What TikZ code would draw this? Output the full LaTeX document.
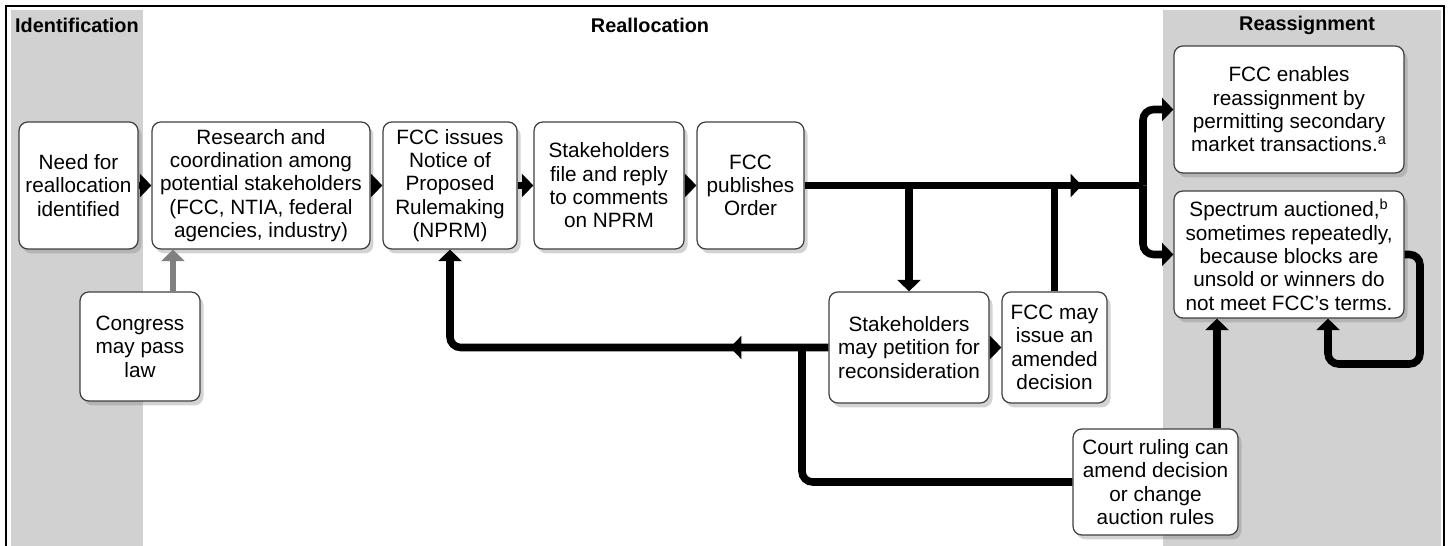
\documentclass[tikz,border=0pt]{standalone}
\usepackage{fontspec}
\setmainfont{Liberation Sans}
\usetikzlibrary{arrows.meta,shadows,calc}
\newcommand\boxfont{\fontsize{11.8}{13.3}\selectfont}
\tikzset{
  box/.style={draw=black!75, line width=0.7pt, rounded corners=5pt, fill=white,
    align=center, inner sep=1pt,
    drop shadow={shadow xshift=2pt, shadow yshift=-2.5pt, opacity=0.35}},
  flow/.style={line width=4.3pt, rounded corners=6pt},
  tip/.style={-{Triangle[length=6.5pt,width=13pt]}},
  band/.style={fill=black!18},
  title/.style={font=\fontsize{11.3}{13}\selectfont\bfseries}
}

\begin{document}
\begin{tikzpicture}[x=0.02cm, y=-0.02cm, font=\boxfont]
\useasboundingbox (0,0) rectangle (1449,546);
\fill[band] (11,10) rectangle (143,546);
\fill[band] (1163,10) rectangle (1441,546);
\draw[line width=1pt] (6,546) |- (1444,6) -- (1444,546);

\node[title, anchor=west] (tid) at (9,25) {Identification};
\node[title] (trl) at (650,25) {Reallocation};
\node[title] (tra) at (1307,25) {Reassignment};

\node[box, minimum width=2.38cm, minimum height=2.54cm] (need) at (78.5,185.5) {Need for\\reallocation\\identified};
\node[box, minimum width=4.36cm, minimum height=2.54cm] (research) at (261,185.5) {Research and\\coordination among\\potential stakeholders\\(FCC, NTIA, federal\\agencies, industry)};
\node[box, minimum width=2.68cm, minimum height=2.54cm] (nprm) at (450,185.5) {FCC issues\\Notice of\\Proposed\\Rulemaking\\(NPRM)};
\node[box, minimum width=3.0cm, minimum height=2.54cm] (file) at (609,185.5) {Stakeholders\\file and reply\\to comments\\on NPRM};
\node[box, minimum width=2.14cm, minimum height=2.54cm] (pub) at (750.5,185.5) {FCC\\publishes\\Order};
\node[box, minimum width=4.6cm, minimum height=2.54cm] (enable) at (1289,109.5) {FCC enables\\reassignment by\\permitting secondary\\market transactions.\textsuperscript{a}};
\node[box, minimum width=4.6cm, minimum height=2.54cm] (auction) at (1289,254.5) {Spectrum auctioned,\textsuperscript{b}\\sometimes repeatedly,\\because blocks are\\unsold or winners do\\not meet FCC's terms.};
\node[box, minimum width=2.4cm, minimum height=2.18cm] (congress) at (140,346.5) {Congress\\may pass\\law};
\node[box, minimum width=3.2cm, minimum height=2.22cm] (petition) at (909,347.5) {Stakeholders\\may petition for\\reconsideration};
\node[box, minimum width=2.1cm, minimum height=2.22cm] (amend) at (1054.5,347.5) {FCC may\\issue an\\amended\\decision};
\node[box, minimum width=3.3cm, minimum height=2.12cm] (court) at (1155.5,482) {Court ruling can\\amend decision\\or change\\auction rules};

\coordinate (split) at (1143,185.5);
\coordinate (join) at (802,347.5);
\coordinate (cu) at (1217,0);
\coordinate (cg) at (173,0);
\coordinate (lp) at (1420,364);
\coordinate (lpx) at (1328,0);

\draw[flow,tip] (need) -- (research);
\draw[flow,tip] (research) -- (nprm);
\draw[flow,tip] (nprm) -- (file);
\draw[flow,tip] (file) -- (pub);
\draw[flow,tip,black!50,line width=3.6pt] (congress.north -| cg) -- (research.south -| cg);

\draw[flow] (pub.east) -- (split);
\draw[flow,tip] (pub.east) -- (1082,185.5);
\draw[flow,tip] (split) |- (enable.west);
\draw[flow,tip] (split) |- (auction.west);
\draw[flow,tip] (pub.east -| petition.north) -- (petition.north);
\draw[flow] (amend.north) -- (amend.north |- pub.east);
\draw[flow,tip] (petition.east) -- (amend.west);
\draw[flow,tip] (petition.west) -| (nprm.south);
\draw[flow,tip] (petition.west) -- (730,347.5);
\draw[flow] (court.west) -| (join);
\draw[flow,tip] (court.north -| cu) -- (auction.south -| cu);
\draw[flow,tip] (auction.east) -| (lp) -| (auction.south -| lpx);
\end{tikzpicture}
\end{document}
